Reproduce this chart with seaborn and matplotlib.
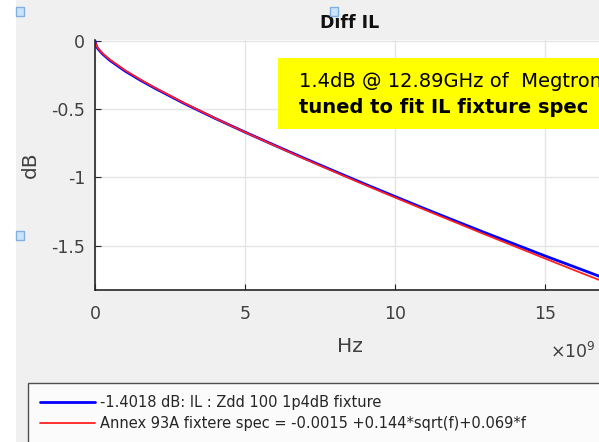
import numpy as np
import pandas as pd
import seaborn as sns
import matplotlib.pyplot as plt
from matplotlib.patches import Rectangle
from matplotlib.lines import Line2D
from matplotlib.ticker import ScalarFormatter

sns.set_style("white")
plt.rcParams['font.family'] = ['DejaVu Sans']

# frequency in GHz, insertion loss in dB
freq_ghz = [0, 0.05, 0.1, 0.25, 0.5, 1, 1.5, 2, 3, 4, 5, 6, 7, 8, 9,
            10, 11, 12, 13, 14, 15, 16, 17]
il_meas = [0, -0.040, -0.058, -0.095, -0.143, -0.220, -0.286, -0.347,
           -0.461, -0.567, -0.668, -0.766, -0.862, -0.956, -1.049,
           -1.140, -1.230, -1.318, -1.405, -1.490, -1.575, -1.657, -1.740]
il_spec = [-0.0015, -0.037, -0.054, -0.091, -0.138, -0.2145, -0.281, -0.343,
           -0.458, -0.566, -0.669, -0.768, -0.866, -0.961, -1.055,
           -1.147, -1.238, -1.328, -1.418, -1.506, -1.594, -1.682, -1.768]

label_meas = "-1.4018 dB: IL : Zdd 100 1p4dB fixture"
label_spec = "Annex 93A fixtere spec = -0.0015 +0.144*sqrt(f)+0.069*f"

df = pd.DataFrame({
    "Hz": np.array(freq_ghz * 2) * 1e9,
    "dB": il_meas + il_spec,
    "trace": [label_meas] * len(freq_ghz) + [label_spec] * len(freq_ghz),
})

fig = plt.figure(figsize=(5.99, 4.42), dpi=100, facecolor="#f0f0f0")
fig.patches.append(Rectangle((0, 0), 16 / 599, 1, transform=fig.transFigure,
                             facecolor="white", edgecolor="none", zorder=0))

ax = fig.add_axes([95 / 599, 1 - 290 / 442, 510 / 599, 250 / 442])
ax.set_facecolor("white")

sns.lineplot(data=df, x="Hz", y="dB", hue="trace",
             palette={label_meas: "#0000ff", label_spec: "#ff2020"},
             ax=ax, legend=False, estimator=None, sort=False)
ax.lines[0].set_linewidth(2.0)
ax.lines[1].set_linewidth(1.3)

ax.set_xlim(0, 17e9)
ax.set_ylim(-1.825, 0.007)
ax.set_xticks([0, 5e9, 10e9, 15e9])
ax.set_yticks([0, -0.5, -1, -1.5])
ax.set_yticklabels(["0", "-0.5", "-1", "-1.5"])
fmt = ScalarFormatter()
fmt.set_powerlimits((9, 9))
ax.xaxis.set_major_formatter(fmt)
ax.xaxis.get_offset_text().set_visible(False)

ax.grid(True, color="#e4e4e4", linewidth=1)
for s in ["top", "right"]:
    ax.spines[s].set_visible(False)
for s in ["left", "bottom"]:
    ax.spines[s].set_color("#262626")
    ax.spines[s].set_linewidth(1.2)
ax.tick_params(direction="in", length=4, colors="#262626", labelcolor="#404040",
               labelsize=12.5, left=True, bottom=True)
ax.tick_params(axis="x", pad=11)
ax.tick_params(axis="y", pad=7)

ax.set_xlabel("Hz", fontsize=14.5, color="#404040", labelpad=10)
ax.set_ylabel("dB", fontsize=14.5, color="#404040", labelpad=8)
ax.set_title("Diff IL", fontsize=12.5, fontweight="bold", color="#111111", pad=9)
fig.text(550 / 599, 1 - 358 / 442, r"$\times10^{9}$", fontsize=12.5, color="#404040")

# yellow annotation box
fig.patches.append(Rectangle((278 / 599, 1 - 129 / 442), 0.6, 71 / 442,
                             transform=fig.transFigure, facecolor="#ffff00",
                             edgecolor="none", zorder=5))
fig.text(299 / 599, 1 - 87 / 442, "1.4dB @ 12.89GHz of  Megtron6",
         fontsize=14, color="black", zorder=6)
fig.text(299 / 599, 1 - 113 / 442, "tuned to fit IL fixture spec",
         fontsize=14, fontweight="bold", color="black", zorder=6)

# legend below the axes
handles = [Line2D([], [], color="#0000ff", linewidth=2.0),
           Line2D([], [], color="#ff2020", linewidth=1.3)]
leg = fig.legend(handles, [label_meas, label_spec], loc="upper left",
                 bbox_to_anchor=(28 / 599, 0, 1.0, 1 - 383 / 442), mode="expand",
                 borderaxespad=0, fontsize=10.5, frameon=True, fancybox=False,
                 handlelength=3.8, handletextpad=0.35, borderpad=0.8,
                 labelspacing=0.45)
leg.get_frame().set_edgecolor("#262626")
leg.get_frame().set_linewidth(1.0)
for t in leg.get_texts():
    t.set_color("#262626")

# small figure edit handles
for (x, y) in [(16, 7), (16, 231), (330, 7)]:
    fig.patches.append(Rectangle((x / 599, 1 - (y + 9) / 442), 8 / 599, 9 / 442,
                                 transform=fig.transFigure, facecolor="#cde4f7",
                                 edgecolor="#7fb0de", linewidth=1, zorder=7))

fig.savefig("out.png", dpi=100, facecolor=fig.get_facecolor())
